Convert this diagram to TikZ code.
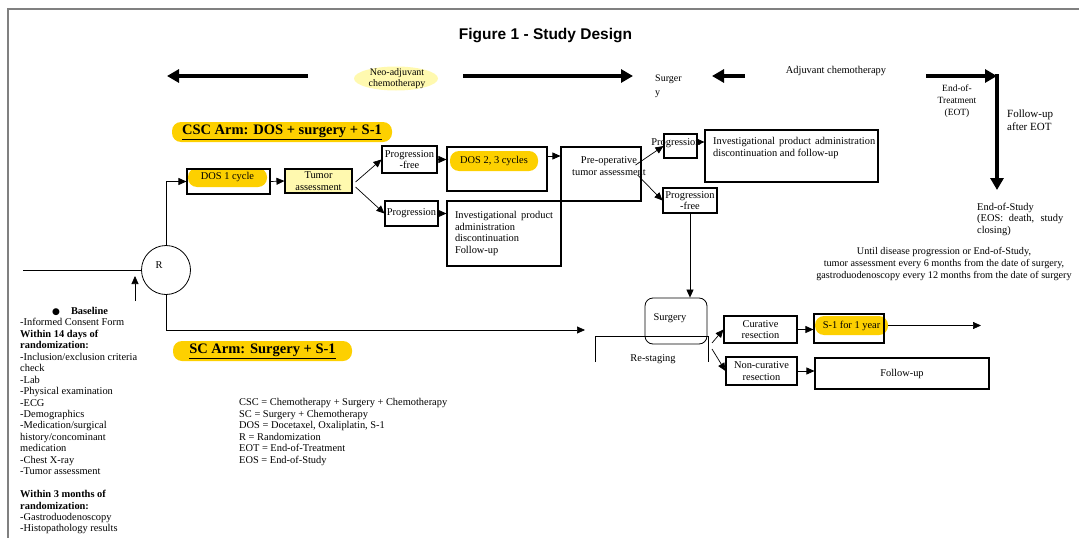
\documentclass[tikz,border=0pt]{standalone}
\usepackage{fontspec}
\setmainfont{Liberation Serif}
\newfontfamily\titlefont{Liberation Sans}
\newfontfamily\symbfont{DejaVu Sans}
\usepackage{tikz}
\usetikzlibrary{calc,positioning,shapes,arrows.meta}
\definecolor{armgold}{RGB}{253,208,0}
\definecolor{paleyellow}{RGB}{255,249,175}
\definecolor{framegray}{RGB}{128,128,128}
\hyphenpenalty=10000
\exhyphenpenalty=10000

\begin{document}
\begin{tikzpicture}[x=1pt,y=-1pt,inner sep=0.4mm,
  every node/.style={font=\fontsize{10.4}{11.5}\selectfont},
  box/.style={draw,line width=1.1pt,rectangle},
  pill/.style={fill=armgold,rounded corners=9pt},
  conn/.style={line width=0.7pt,-{Triangle[length=8pt,width=7pt]}},
  bigarrow/.style={line width=3.5pt,-{Triangle[length=12pt,width=13pt]}}]
\useasboundingbox (0,0) rectangle (1079,538);
\draw[framegray,line width=2pt] (7.5,538) -- (7.5,8.5) -- (1079,8.5);

\node (title) at (545.5,36) [font=\titlefont\bfseries\fontsize{15.5}{18}\selectfont] {Figure 1 - Study Design};

% time line on top
\coordinate (neoL) at (308,76);
\coordinate (neoLtip) at (167,76);
\coordinate (neoR) at (463,76);
\coordinate (neoRtip) at (633,76);
\coordinate (adjL) at (745,76);
\coordinate (adjLtip) at (712,76);
\coordinate (eotL) at (926,76);
\coordinate (eotC) at (997,76);
\coordinate (eosTip) at (997,190);
\draw[bigarrow] (neoL) -- (neoLtip);
\draw[bigarrow] (neoR) -- (neoRtip);
\draw[bigarrow] (adjL) -- (adjLtip);
\draw[bigarrow] (eotL) -- (eotC);
\draw[bigarrow] ($(eotC)+(0,-1.75)$) -- (eosTip);
\fill[paleyellow] (396,78.5) ellipse [x radius=42,y radius=12];
\node (neo) at (397,78.5) [align=center,inner sep=0,font=\fontsize{10}{11}\selectfont] {Neo-adjuvant\\chemotherapy};
\node (surg) at (655,86) [anchor=west,align=left,inner sep=0,font=\fontsize{10}{14}\selectfont] {Surger\\y};
\node (adj) at (836,71) {Adjuvant chemotherapy};
\node (eot) at (957,101) [align=center,font=\fontsize{9.5}{12}\selectfont] {End-of-\\Treatment\\(EOT)};
\node (fuEOT) at (1007,110) [anchor=north west,inner sep=0,align=left,font=\fontsize{11}{13}\selectfont] {Follow-up\\after EOT};
\node (eos) at (977,202.5) [anchor=north west,inner sep=0,text width=86,align=justify] {End-of-Study\\(EOS: death, study closing)};
\node (until) at (944,247.5) [anchor=north,inner sep=0,align=center,font=\fontsize{10.2}{12}\selectfont] {Until disease progression or End-of-Study,\\tumor assessment every 6 months from the date of surgery,\\gastroduodenoscopy every 12 months from the date of surgery};

\node (cscarm) at (282,132) [pill,minimum width=220,minimum height=20,font=\bfseries\fontsize{14.5}{16}\selectfont] {\underline{CSC Arm: DOS + surgery + S-1}};
\node (scarm) at (262.5,351) [pill,minimum width=179,minimum height=20,font=\bfseries\fontsize{14.5}{16}\selectfont] {\underline{SC Arm: Surgery + S-1}};

% randomization
\node (R) at (166,270) [circle,draw,line width=0.8pt,minimum size=49,inner sep=0] {};
\node (Rlbl) at ($(R.center)+(-7,-5)$) {R};
\coordinate (inR) at (23,270);
\coordinate (upTail) at (135,301);
\coordinate (upTip) at (135,276);
\draw[line width=0.7pt] (inR) -- (R.west);
\draw[conn] (upTail) -- (upTip);

% CSC arm
\node (dos1) at (227.5,177.5) [pill,minimum width=79,minimum height=19] {DOS 1 cycle};
\node (dos1box) at (228.5,181.5) [box,minimum width=83,minimum height=25] {};
\node (tumor) at (318.5,181) [box,fill=paleyellow,minimum width=67,minimum height=24,align=center,inner sep=1pt] {Tumor\\assessment};
\node (pf1) at (409.5,159.5) [box,minimum width=55,minimum height=27,align=center,inner sep=1pt] {Progression\\-free};
\node (prog1) at (411.5,213.5) [box,minimum width=53,minimum height=25,inner sep=1pt] {Progression};
\node (dos23) at (494,161) [pill,minimum width=88,minimum height=20] {DOS 2, 3 cycles};
\node (dos23box) at (497,169) [box,minimum width=100,minimum height=44] {};
\node (invest) at (504,233.5) [box,minimum width=114,minimum height=65,text width=98,align=justify,inner xsep=8,inner ysep=2] {Investigational product administration discontinuation Follow-up};
\node (preop) at (601,174) [box,minimum width=80,minimum height=54] {};
\node (preoptxt) at (609,166) [align=center] {Pre-operative\\tumor assessment};
\node (prog2) at (680.5,146) [box,minimum width=33,minimum height=24] {};
\node (prog2txt) at (676,143) {Progression};
\node (bigbox) at (791.5,156) [box,minimum width=173,minimum height=52] {};
\node (bigtxt) at (713,137.5) [anchor=north west,inner sep=0,text width=162,align=justify] {Investigational product administration discontinuation and follow-up};
\node (pf2) at (690,200.5) [box,minimum width=54,minimum height=25,align=center,inner sep=1pt] {Progression\\-free};

\draw[conn] (R.north) |- (dos1box.west);
\draw[conn] (dos1box.east) -- (tumor.west);
\draw[conn] ($(tumor.east)+(3,1)$) -- (pf1.west);
\draw[conn] ($(tumor.east)+(3,6)$) -- (prog1.west);
\draw[conn] (pf1.east) -- (pf1.east -| dos23box.west);
\draw[conn] (prog1.east) -- (prog1.east -| invest.west);
\draw[conn] ($(dos23box.east)+(0,-13)$) -- ($(preop.west)+(0,-18)$);
\draw[conn] ($(preop.east)+(-6,-9)$) -- (prog2.west);
\draw[conn] ($(preop.east)+(-4,1)$) -- (pf2.west);
\draw[conn] ($(prog2.east)+(0,-4)$) -- ($(prog2.east -| bigbox.west)+(0,-4)$);

% surgery and after
\node (surgery) at (676,321) [draw,line width=0.8pt,rounded corners=8pt,minimum width=62,minimum height=46] {};
\node (surgtxt) at (670,318) {Surgery};
\draw[line width=0.8pt] (595,362) -- (595,336) -- (708,336) -- (708,362);
\node (restag) at (653,359) {Re-staging};
\node (cur) at (760.5,329.5) [box,minimum width=73,minimum height=27,align=center,inner sep=1pt] {Curative\\resection};
\node (noncur) at (761.5,371) [box,minimum width=71,minimum height=28,align=center,inner sep=1pt] {Non-curative\\resection};
\node (s1) at (851.5,325.5) [pill,minimum width=73,minimum height=19] {S-1 for 1 year};
\node (s1box) at (849,328.5) [box,minimum width=70,minimum height=29] {};
\node (fu) at (902,373.5) [box,minimum width=174,minimum height=31] {Follow-up};
\coordinate (scend) at (585,330);
\coordinate (fork) at (712,346);
\coordinate (s1end) at (981,325.5);

\draw[conn] (pf2.south) -- (pf2.south |- surgery.north);
\draw[conn] (R.south) |- (scend);
\draw[conn] ($(fork)+(0,-3)$) -- (cur.west);
\draw[conn] ($(fork)+(0,3)$) -- (noncur.west);
\draw[conn] (cur.east) -- (cur.east -| s1box.west);
\draw[conn] (noncur.east) -- (noncur.east -| fu.west);
\draw[conn] (s1.east) -- (s1end);

% legend and baseline list
\node (legend) at (239,398.5) [anchor=north west,inner sep=0,align=left] {CSC = Chemotherapy + Surgery + Chemotherapy\\SC = Surgery + Chemotherapy\\DOS = Docetaxel, Oxaliplatin, S-1\\R = Randomization\\EOT = End-of-Treatment\\EOS = End-of-Study};
\node (baseline) at (20,307) [anchor=north west,inner sep=0,align=left,font=\fontsize{10.4}{11.45}\selectfont] {\hspace*{32pt}{\symbfont\fontsize{9}{11}\selectfont ●}\hspace*{11pt}\textbf{Baseline}\\-Informed Consent Form\\\textbf{Within 14 days of}\\\textbf{randomization:}\\-Inclusion/exclusion criteria\\check\\-Lab\\-Physical examination\\-ECG\\-Demographics\\-Medication/surgical\\history/concominant\\medication\\-Chest X-ray\\-Tumor assessment\\[11.45pt]\textbf{Within 3 months of}\\\textbf{randomization:}\\-Gastroduodenoscopy\\-Histopathology results};

\end{tikzpicture}
\end{document}
